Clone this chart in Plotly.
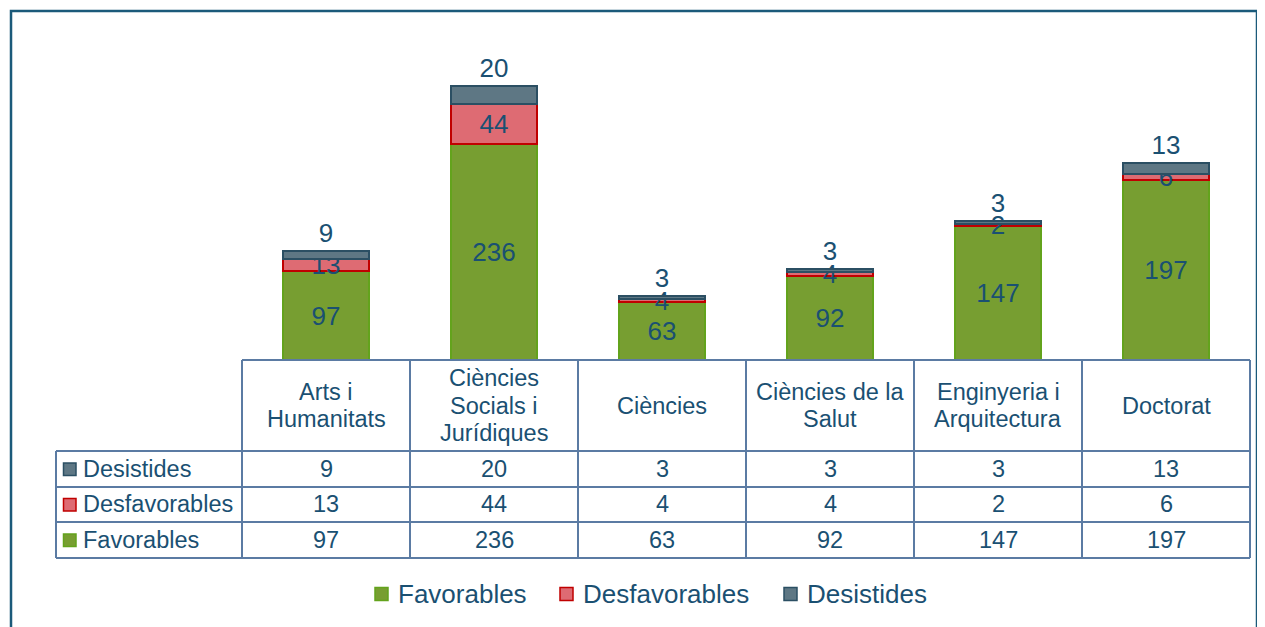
import plotly.graph_objects as go

categories = ["Arts i\nHumanitats", "Ciències\nSocials i\nJurídiques", "Ciències",
              "Ciències de la\nSalut", "Enginyeria i\nArquitectura", "Doctorat"]
favorables = [97, 236, 63, 92, 147, 197]
desfavorables = [13, 44, 4, 4, 2, 6]
desistides = [9, 20, 3, 3, 3, 13]

series_names = ["Favorables", "Desfavorables", "Desistides"]
fill_colors = ["#779E31", "#DE6B73", "#5E7784"]
edge_colors = ["#63A31C", "#C00000", "#2B4F63"]

# the page places the figure 8px from the top-left corner
OFF = 8
W, H = 1265 - OFF, 627 - OFF
FONT = "Arial, Liberation Sans, sans-serif"
TXT = "#1A5072"
GRID = "#5B7BA3"
FRAME = "#1B5A7A"

def px(x):
    return (x - OFF) / W

def py(y):
    return (H - (y - OFF)) / H

x_idx = list(range(len(categories)))
values = [favorables, desfavorables, desistides]

fig = go.Figure()
for k, (name, vals) in enumerate(zip(series_names, values)):
    fig.add_trace(go.Bar(
        x=x_idx, y=vals, name=name,
        marker=dict(color=fill_colors[k], line=dict(color=edge_colors[k], width=2)),
        text=[str(v) for v in vals],
        textposition="outside" if k == 2 else "inside",
        insidetextanchor="middle",
        textangle=0,
        constraintext="none",
        textfont=dict(family=FONT, size=26, color=TXT),
        cliponaxis=False,
        hoverinfo="skip",
        showlegend=False,
    ))

# plot / table geometry (pixels in the screenshot)
x_left, x_right = 242, 1250
col_w = (x_right - x_left) / len(categories)
y_base = 360
row_lines = [451, 487, 522, 558]
tab_left = 56

shapes = []
# outer frame
shapes.append(dict(type="rect", xref="paper", yref="paper",
                   x0=px(11), x1=px(1257), y0=py(640), y1=py(11),
                   line=dict(color=FRAME, width=2.5)))
# table top line
shapes.append(dict(type="line", xref="paper", yref="paper",
                   x0=px(x_left), x1=px(x_right), y0=py(y_base), y1=py(y_base),
                   line=dict(color=GRID, width=2)))
# horizontal row lines
for yl in row_lines:
    shapes.append(dict(type="line", xref="paper", yref="paper",
                       x0=px(tab_left), x1=px(x_right), y0=py(yl), y1=py(yl),
                       line=dict(color=GRID, width=2)))
# vertical lines
for i in range(len(categories) + 1):
    xv = x_left + i * col_w
    shapes.append(dict(type="line", xref="paper", yref="paper",
                       x0=px(xv), x1=px(xv), y0=py(y_base), y1=py(row_lines[-1]),
                       line=dict(color=GRID, width=2)))
shapes.append(dict(type="line", xref="paper", yref="paper",
                   x0=px(tab_left), x1=px(tab_left), y0=py(row_lines[0]), y1=py(row_lines[-1]),
                   line=dict(color=GRID, width=2)))

annotations = []
# header category labels
header_center = (y_base + row_lines[0]) / 2
line_h = 27.5
for i, cat in enumerate(categories):
    lines = cat.split("\n")
    n = len(lines)
    for j, ln in enumerate(lines):
        yc = header_center + (j - (n - 1) / 2) * line_h
        annotations.append(dict(xref="x", yref="paper", x=i, y=py(yc),
                                text=ln, showarrow=False, xanchor="center", yanchor="middle",
                                font=dict(family=FONT, size=23.5, color=TXT)))

# table rows: Desistides, Desfavorables, Favorables (top to bottom)
row_order = [2, 1, 0]
for r, k in enumerate(row_order):
    yc = (row_lines[r] + row_lines[r + 1]) / 2
    shapes.append(dict(type="rect", xref="paper", yref="paper",
                       x0=px(63.5), x1=px(76), y0=py(yc + 6.5), y1=py(yc - 6),
                       fillcolor=fill_colors[k], line=dict(color=edge_colors[k], width=1.5)))
    annotations.append(dict(xref="paper", yref="paper", x=px(81), y=py(yc),
                            text=series_names[k], showarrow=False, xanchor="left", yanchor="middle",
                            font=dict(family=FONT, size=23.5, color=TXT)))
    for i, v in enumerate(values[k]):
        annotations.append(dict(xref="x", yref="paper", x=i, y=py(yc),
                                text=str(v), showarrow=False, xanchor="center", yanchor="middle",
                                font=dict(family=FONT, size=23.5, color=TXT)))

# bottom legend
legend_sq_x = [375, 560, 784]
legend_y = 594
for k, name in enumerate(series_names):
    x0 = legend_sq_x[k]
    shapes.append(dict(type="rect", xref="paper", yref="paper",
                       x0=px(x0), x1=px(x0 + 13), y0=py(legend_y + 6.5), y1=py(legend_y - 6.5),
                       fillcolor=fill_colors[k], line=dict(color=edge_colors[k], width=1.5)))
    annotations.append(dict(xref="paper", yref="paper", x=px(x0 + 21), y=py(legend_y),
                            text=name, showarrow=False, xanchor="left", yanchor="middle",
                            font=dict(family=FONT, size=26, color=TXT)))

fig.update_layout(
    width=W, height=H,
    margin=dict(l=0, r=0, t=0, b=0),
    paper_bgcolor="white", plot_bgcolor="white",
    barmode="stack", bargap=0.49,
    font=dict(family=FONT, color=TXT),
    xaxis=dict(domain=[px(x_left), px(x_right)], range=[-0.5, 5.5],
               showticklabels=False, showgrid=False, zeroline=False, showline=False,
               fixedrange=True),
    yaxis=dict(domain=[py(y_base), py(40)], range=[0, 350],
               showticklabels=False, showgrid=False, zeroline=False, showline=False,
               fixedrange=True),
    showlegend=False,
    shapes=shapes,
    annotations=annotations,
)

fig.write_html("out.html")
